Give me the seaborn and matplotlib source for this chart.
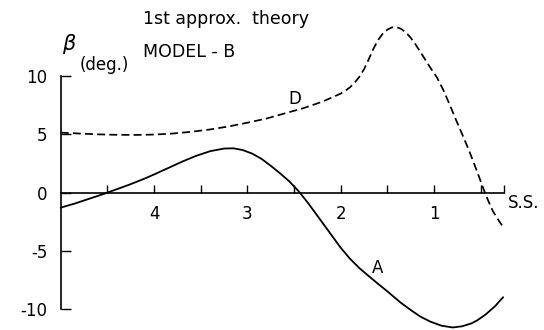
import matplotlib
matplotlib.use("Agg")
import matplotlib.pyplot as plt
import seaborn as sns
import pandas as pd

# Station (S.S.) positions and flow angle beta (deg.) for the two curves
s_A = [5.00, 4.85, 4.70, 4.55, 4.40, 4.25, 4.10, 4.00, 3.85, 3.70, 3.55, 3.40,
       3.25, 3.15, 3.05, 2.95, 2.85, 2.75, 2.65, 2.55, 2.45, 2.35, 2.25, 2.15,
       2.05, 2.00, 1.90, 1.80, 1.69, 1.60, 1.50, 1.36, 1.25, 1.15, 1.04, 0.92,
       0.80, 0.70, 0.60, 0.54, 0.45, 0.35, 0.26]
beta_A = [-1.30, -0.95, -0.55, -0.15, 0.28, 0.72, 1.20, 1.55, 2.10, 2.65, 3.15, 3.55,
          3.78, 3.80, 3.65, 3.35, 2.90, 2.30, 1.65, 0.95, 0.10, -0.90, -2.00, -3.10,
          -4.20, -4.75, -5.70, -6.50, -7.25, -7.85, -8.50, -9.45, -10.10, -10.65, -11.10, -11.45,
          -11.60, -11.50, -11.25, -11.00, -10.50, -9.80, -9.00]

s_D = [5.00, 4.80, 4.60, 4.40, 4.20, 4.00, 3.80, 3.60, 3.40, 3.20, 3.00, 2.80,
       2.60, 2.40, 2.20, 2.00, 1.95, 1.90, 1.85, 1.80, 1.75, 1.70, 1.65, 1.60,
       1.55, 1.50, 1.45, 1.40, 1.35, 1.30, 1.25, 1.20, 1.12, 1.05, 0.97, 0.90,
       0.83, 0.76, 0.69, 0.62, 0.56, 0.50, 0.47, 0.42, 0.37, 0.30, 0.26]
beta_D = [5.15, 5.07, 5.00, 4.96, 4.95, 4.98, 5.07, 5.22, 5.42, 5.68, 6.00, 6.35,
          6.80, 7.25, 7.80, 8.50, 8.75, 9.05, 9.45, 9.95, 10.60, 11.45, 12.35, 13.10,
          13.65, 14.00, 14.20, 14.22, 14.05, 13.75, 13.30, 12.75, 11.75, 10.85, 9.90, 8.80,
          7.50, 6.15, 4.85, 3.50, 2.25, 0.95, 0.30, -0.70, -1.60, -2.50, -2.95]

x_ticks = [4.5, 4.0, 3.5, 3.0, 2.5, 2.0, 1.5, 1.0, 0.5, 0.25]
x_tick_labels = ["", "4", "", "3", "", "2", "", "1", "", ""]
y_ticks = [-10, -5, 0, 5, 10]
y_tick_labels = ["-10", "-5", "0", "5", "10"]

curve_A = pd.DataFrame({"S.S.": s_A, "beta": beta_A})
curve_D = pd.DataFrame({"S.S.": s_D, "beta": beta_D})

sns.set_theme(style="white")
plt.rcParams["font.family"] = ["DejaVu Sans"]
plt.rcParams["font.size"] = 12
plt.rcParams["text.color"] = "black"

fig = plt.figure(figsize=(5.44, 3.30), dpi=100)
ax = fig.add_axes([0.1116, 0.0024, 0.815, 0.943])

sns.lineplot(data=curve_A, x="S.S.", y="beta", sort=False, estimator=None,
             color="black", linewidth=1.3, ax=ax, clip_on=False)
sns.lineplot(data=curve_D, x="S.S.", y="beta", sort=False, estimator=None,
             color="black", linewidth=1.25, ax=ax, clip_on=False)
ax.lines[-1].set_dashes((4.6, 2.4))

ax.set_xlim(5.0, 0.25)
ax.set_ylim(-11.75, 15.0)
ax.set_xlabel("")
ax.set_ylabel("")

# Axis cross at beta = 0; left axis spans -10..10
for side in ("top", "right"):
    ax.spines[side].set_visible(False)
ax.spines["bottom"].set_position(("data", 0))
ax.spines["bottom"].set_bounds(5.0, 0.25)
ax.spines["left"].set_bounds(-10, 10)
for side in ("bottom", "left"):
    ax.spines[side].set_linewidth(1.2)
    ax.spines[side].set_color("black")

ax.set_xticks(x_ticks)
ax.set_xticklabels(x_tick_labels)
ax.set_yticks(y_ticks)
ax.set_yticklabels(y_tick_labels)
ax.tick_params(axis="x", direction="in", length=5.5, width=1.0, pad=9,
               labelsize=12, colors="black", bottom=True)
ax.tick_params(axis="y", direction="in", length=7, width=1.0, pad=9.5,
               labelsize=12, colors="black", left=True)
ax.grid(False)

# Curve labels and axis caption
ax.text(2.49, 8.0, "D", ha="center", va="center", fontsize=12, color="black")
ax.text(1.61, -6.5, "A", ha="center", va="center", fontsize=12, color="black")
ax.text(0.21, -0.9, "S.S.", ha="left", va="center", fontsize=12, color="black",
        clip_on=False)

fig.text(143 / 544, 1 - 19.5 / 330, "1st approx.  theory", ha="left", va="center",
         fontsize=12.5, color="black")
fig.text(143 / 544, 1 - 51.7 / 330, "MODEL - B", ha="left", va="center",
         fontsize=12.5, color="black")
fig.text(62 / 544, 1 - 44 / 330, "β", ha="left", va="center", fontsize=15,
         style="italic", color="black")
fig.text(80 / 544, 1 - 65 / 330, "(deg.)", ha="left", va="center", fontsize=12,
         color="black")

fig.savefig("out.png", dpi=100, facecolor="white")
